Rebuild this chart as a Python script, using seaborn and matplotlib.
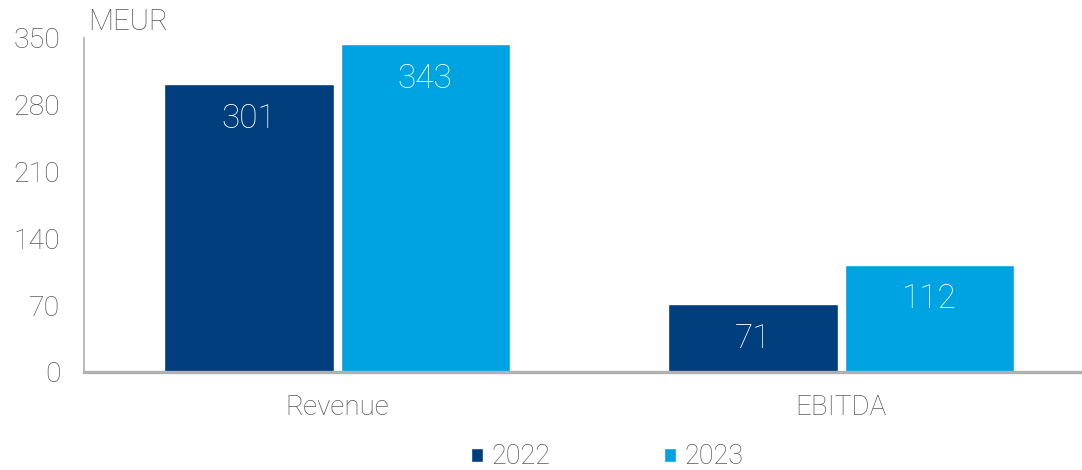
import matplotlib
matplotlib.use("Agg")
import matplotlib.pyplot as plt
import seaborn as sns
import pandas as pd

# Key figures, MEUR
metrics = ["Revenue", "EBITDA"]
years = ["2022", "2023"]
values_2022 = [301, 71]
values_2023 = [343, 112]
y_ticks = [0, 70, 140, 210, 280, 350]
colors = ["#003e7e", "#00a3e2"]

df = pd.DataFrame({
    "metric": metrics * 2,
    "year": [years[0]] * len(metrics) + [years[1]] * len(metrics),
    "value": values_2022 + values_2023,
})

sns.set_theme(style="white")
plt.rcParams["font.family"] = ["Roboto", "DejaVu Sans"]
plt.rcParams["font.weight"] = "light"
text_color = "#595959"

fig = plt.figure(figsize=(10.82, 4.70), dpi=100)
ax = fig.add_axes([84 / 1082, 1 - 372 / 470, 996 / 1082, 334.5 / 470])

sns.barplot(data=df, x="metric", y="value", hue="year", order=metrics,
            hue_order=years, palette=colors, width=0.7, gap=0.04,
            saturation=1, ax=ax, legend=True)

# value labels inside the top of each bar
for container, year in zip(ax.containers, years):
    vals = values_2022 if year == years[0] else values_2023
    for patch, v in zip(container.patches, vals):
        ax.annotate(f"{v}", xy=(patch.get_x() + patch.get_width() / 2, v),
                    xytext=(0, -34.5 * 72 / 100), textcoords="offset points",
                    ha="center", va="center", color="white", fontsize=24,
                    fontweight="light")

ax.set_ylim(0, 350)
ax.set_xlim(-0.502, 1.474)
ax.set_yticks(y_ticks)
ax.set_yticklabels([str(t) for t in y_ticks])
ax.tick_params(axis="y", length=0, pad=17, labelsize=20.5, labelcolor=text_color)
ax.tick_params(axis="x", length=0, pad=16, labelsize=20, labelcolor=text_color)
ax.set_xlabel("")
ax.set_ylabel("")

for side in ["top", "right"]:
    ax.spines[side].set_visible(False)
ax.spines["left"].set_color("#b5b5b5")
ax.spines["left"].set_linewidth(1.3)
ax.spines["bottom"].set_color("#b0b0b0")
ax.spines["bottom"].set_linewidth(2.4)

fig.text(88 / 1082, 1 - 22 / 470, "MEUR", ha="left", va="center",
         fontsize=21, color=text_color, fontweight="light")

handles, labels = ax.get_legend_handles_labels()
ax.get_legend().remove()
fig.legend(handles, labels, loc="center", bbox_to_anchor=(607 / 1082, 1 - 457 / 470),
           ncol=2, frameon=False, fontsize=19.5, labelcolor=text_color,
           handlelength=0.45, handleheight=0.45, handletextpad=0.3,
           columnspacing=4.2)

fig.savefig("out.png", dpi=100)
